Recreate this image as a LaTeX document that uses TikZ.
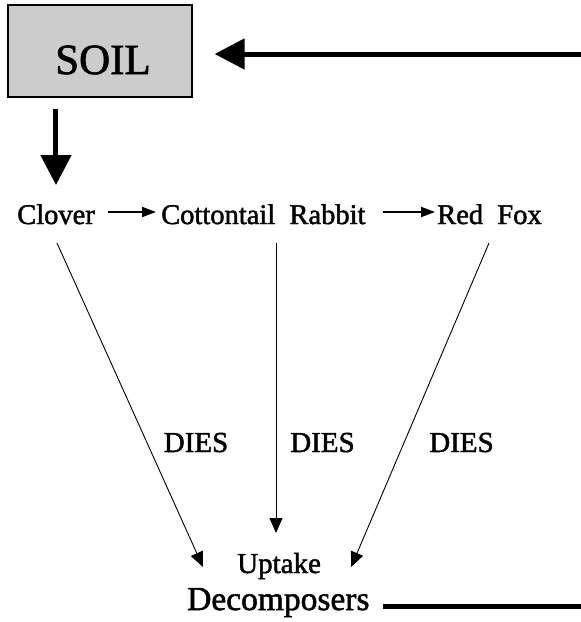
\documentclass[tikz,border=0pt]{standalone}
\usepackage{fontspec}
\setmainfont{Liberation Serif}[FakeBold=1.6]
\usetikzlibrary{arrows.meta}
\definecolor{soilgray}{HTML}{CCCCCC}
\tikzset{
  soilbox/.style={draw=black, line width=1.2pt, fill=soilgray, minimum width=184pt, minimum height=92pt, inner sep=0pt},
  txt/.style={inner sep=0pt, font=\fontsize{28.5}{30}\selectfont},
  dies/.style={inner sep=0pt, anchor=base, font=\fontsize{29}{31}\selectfont},
  bigarrow/.style={line width=5pt, -{Triangle[length=30pt,width=30pt]}},
  smallarrow/.style={line width=2pt, -{Triangle[length=14pt,width=10pt]}},
  diagarrow/.style={line width=0.9pt, -{Triangle[length=15pt,width=13pt]}},
  thickline/.style={line width=5pt}
}
\begin{document}
\begin{tikzpicture}[x=1pt,y=-1pt]
\useasboundingbox (0,0) rectangle (581,622);
% SOIL box
\node[soilbox] (soil) at (100,51) {};
\node[inner sep=0pt, anchor=base, font=\fontsize{43}{45}\selectfont] (soiltext) at (103,74) {SOIL};
% food chain row
\node[txt, anchor=base west] (clover) at (17,224) {Clover};
\node[txt, anchor=base west] (rabbit) at (161,224) {Cottontail\ \ Rabbit};
\node[txt, anchor=base west] (fox) at (437,224) {Red\ \ Fox};
% bottom texts
\node[inner sep=0pt, anchor=base west, font=\fontsize{29}{31}\selectfont] (uptake) at (237,573) {Uptake};
\node[inner sep=0pt, anchor=base west, font=\fontsize{33.5}{35}\selectfont] (decomp) at (187,610) {Decomposers};
% DIES labels
\node[dies] (d1) at (196,452) {DIES};
\node[dies] (d2) at (322.5,452) {DIES};
\node[dies] (d3) at (461.5,452) {DIES};
% free ends at the right edge
\coordinate (rin) at (581,54);
\coordinate (rout) at (581,606);
% big arrows
\draw[bigarrow] (rin) -- ([xshift=22pt,yshift=-3pt]soil.east);
\draw[bigarrow] ([yshift=-11pt]soil.south -| clover.north) -- ([yshift=19pt]clover.north);
% small arrows in the chain
\draw[smallarrow] ([xshift=13pt,yshift=12pt]clover.base east) -- ([xshift=-5pt,yshift=12pt]rabbit.base west);
\draw[smallarrow] ([xshift=17pt,yshift=12pt]rabbit.base east) -- ([xshift=-2pt,yshift=12pt]fox.base west);
% dying arrows to decomposers
\coordinate (cstart) at (57,243);
\coordinate (rstart) at (276,243);
\coordinate (fstart) at (489,243);
\draw[diagarrow] (cstart) -- ([xshift=-34pt,yshift=6pt]uptake.base west);
\draw[diagarrow] (rstart) -- (276,533);
\draw[diagarrow] (fstart) -- ([xshift=30pt,yshift=6pt]uptake.base east);
% return line
\draw[thickline] ([xshift=13pt,yshift=4pt]decomp.base east) -- (rout);
\end{tikzpicture}
\end{document}
